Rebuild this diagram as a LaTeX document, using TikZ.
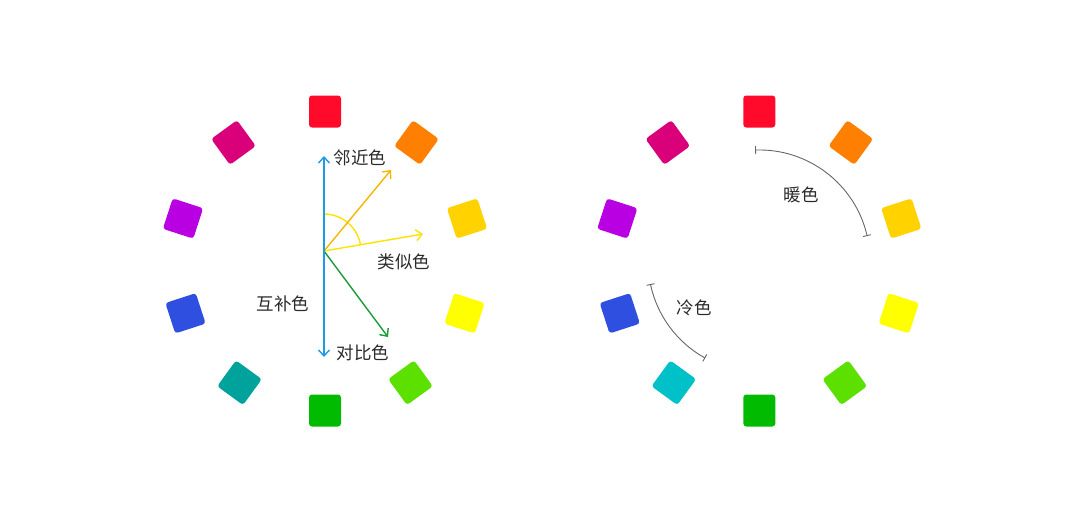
\documentclass[tikz,border=0pt]{standalone}
\usepackage{fontspec}
\newfontfamily\cjk{Noto Sans CJK SC}
\usetikzlibrary{arrows.meta}
\definecolor{cRed}{HTML}{FF0A2B}
\definecolor{cOrange}{HTML}{FF8000}
\definecolor{cAmber}{HTML}{FFD200}
\definecolor{cYellow}{HTML}{FFFF00}
\definecolor{cLime}{HTML}{5CE000}
\definecolor{cGreen}{HTML}{00BB00}
\definecolor{cTeal}{HTML}{00A29C}
\definecolor{cCyan}{HTML}{00C0C8}
\definecolor{cBlue}{HTML}{2F4FE0}
\definecolor{cPurple}{HTML}{B900E3}
\definecolor{cMagenta}{HTML}{D9007A}
\definecolor{aBlue}{HTML}{1E9BE6}
\definecolor{aOrange}{HTML}{F7B500}
\definecolor{aYellow}{HTML}{FFE200}
\definecolor{aGreen}{HTML}{1A9A3A}
\definecolor{txt}{HTML}{2A2A2A}
\definecolor{arcgray}{HTML}{666666}
\begin{document}
\begin{tikzpicture}[x=1pt,y=-1pt,
  sq/.style={minimum size=32pt, rounded corners=3pt, inner sep=0pt, draw=none},
  lbl/.style={font=\cjk\fontsize{17.5}{19}\selectfont, text=txt, inner sep=0pt},
  arr/.style={line width=1.4pt, -{Straight Barb[length=6pt,width=11pt]}},
  darr/.style={line width=1.4pt, {Straight Barb[length=6pt,width=11pt]}-{Straight Barb[length=6pt,width=11pt]}},
  rng/.style={draw=arcgray, line width=0.9pt, {Bar[width=8pt]}-{Bar[width=8pt]}}]
\useasboundingbox (0,0) rectangle (1080,522);
% left wheel
\foreach \t/\dx/\dy/\c [count=\i] in {0/0/-149.5/cRed,36/91.5/-118.5/cOrange,72/142/-42.5/cAmber,108/139.5/52.3/cYellow,144/85.5/121.7/cLime,180/0/149.5/cGreen,216/-85.5/121.7/cTeal,252/-139.5/52.3/cBlue,288/-142/-42.5/cPurple,324/-91.5/-118.5/cMagenta}{
  \node[sq, fill=\c, rotate=-\t] (L\i) at ({325+\dx},{261+\dy}) {};
}
% right wheel
\foreach \t/\dx/\dy/\c [count=\i] in {0/0/-149.5/cRed,36/91.5/-118.5/cOrange,72/142/-42.5/cAmber,108/139.5/52.3/cYellow,144/85.5/121.7/cLime,180/0/149.5/cGreen,216/-85.5/121.7/cCyan,252/-139.5/52.3/cBlue,288/-142/-42.5/cPurple,324/-91.5/-118.5/cMagenta}{
  \node[sq, fill=\c, rotate=-\t] (R\i) at ({759.3+\dx},{261+\dy}) {};
}
% left arrows
\coordinate (o) at (324,251);
\coordinate (btop) at (324,156);
\coordinate (bbot) at (324,357);
\coordinate (oend) at (391,170);
\coordinate (yend) at (423,234);
\coordinate (gend) at (388,337);
\draw[aYellow, line width=1.4pt] (o) ++(-90:37) arc[start angle=-90, end angle=-9.6, radius=37];
\draw[arr, aOrange] (o) -- (oend);
\draw[arr, aYellow] (o) -- (yend);
\draw[arr, aGreen] (o) -- (gend);
\draw[darr, aBlue] (btop) -- (bbot);
\node[lbl] (n1) at (360,158) {邻近色};
\node[lbl] (n2) at (404,262) {类似色};
\node[lbl] (n3) at (283,304) {互补色};
\node[lbl] (n4) at (363,353) {对比色};
% right arcs
\coordinate (c) at (759,261);
\draw[rng] (c) ++(-92:111) arc[start angle=-92, end angle=-13, radius=111];
\draw[rng] (c) ++(168:111) arc[start angle=168, end angle=119, radius=111];
\node[lbl] (w) at (801,195) {暖色};
\node[lbl] (k) at (694,308) {冷色};
\end{tikzpicture}
\end{document}
